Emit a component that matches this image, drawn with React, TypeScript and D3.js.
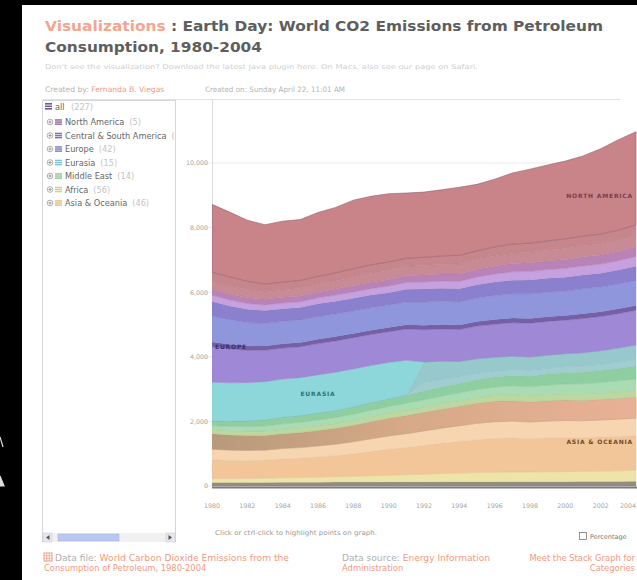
import React from 'react';
import * as d3 from 'd3';

const years = [1980,1981,1982,1983,1984,1985,1986,1987,1988,1989,1990,1991,1992,1993,1994,1995,1996,1997,1998,1999,2000,2001,2002,2003,2004];
const xTickYears = [1980,1982,1984,1986,1988,1990,1992,1994,1996,1998,2000,2002,2004];
const yTicks = [0,2000,4000,6000,8000,10000];

// Asia & Oceania (bottom of stack)
const aoBase = [110,110,110,110,115,115,115,120,120,120,125,125,125,130,130,130,130,135,135,135,135,140,140,140,145];
const aoYellow = [120,120,125,130,140,150,160,170,180,195,210,225,240,255,270,285,295,300,300,305,310,315,320,330,340];
const aoPeach = [580,560,550,555,580,595,625,650,695,750,800,840,890,935,975,1015,1045,1050,1030,1045,1050,1040,1055,1065,1070];
const aoLight = [330,320,315,315,325,330,340,355,375,395,415,430,450,470,490,510,520,525,515,525,530,525,530,535,545];
const aoTan = [480,470,460,450,460,470,480,495,510,530,550,560,575,590,605,620,630,630,620,630,635,630,635,640,650];
// Africa
const africa = [130,135,140,140,140,145,150,150,155,160,165,170,170,175,175,180,185,190,190,195,200,205,205,210,215];
// Middle East
const meLower = [120,130,140,155,165,170,175,180,190,195,200,210,220,230,240,250,260,270,280,290,300,310,320,335,350];
const meUpper = [150,160,180,195,205,210,215,220,230,235,240,250,270,280,290,300,310,320,330,340,350,360,370,385,400];
// Eurasia
const eurasiaOther = [0,0,0,0,0,0,0,0,0,0,0,0,280,240,210,200,190,190,190,185,185,190,195,200,210];
const russia = [0,0,0,0,0,0,0,0,0,0,0,0,620,560,470,450,420,410,400,400,400,410,420,430,440];
const ussr = [1190,1190,1180,1180,1180,1170,1180,1180,1170,1150,1120,1080,0,0,0,0,0,0,0,0,0,0,0,0,0];
// Europe
const euPurple = [1100,1050,1000,970,960,955,970,970,965,960,950,970,995,995,990,1010,1025,1035,1050,1045,1040,1060,1055,1065,1075];
const euDark = [150,145,140,135,135,135,135,135,135,135,135,135,140,140,140,140,145,145,145,145,145,150,150,150,150];
const euBlue = [800,760,720,700,695,690,700,700,695,690,685,700,720,720,715,730,745,750,765,760,755,770,765,770,775];
const euTop = [450,425,410,395,390,390,395,395,395,395,390,395,405,405,405,410,415,420,430,430,430,430,430,435,440];
// Central & South America
const csaLower = [200,190,180,175,175,180,185,190,195,200,205,210,215,220,230,240,250,260,265,270,275,280,280,285,300];
const csaUpper = [180,180,180,175,175,180,185,190,195,200,205,210,215,220,230,240,250,260,265,270,275,280,280,285,300];
// North America
const mexico = [240,250,250,230,230,240,240,250,260,270,280,290,295,300,310,300,305,315,325,330,340,340,345,350,360];
const canada = [290,280,260,240,240,240,240,250,260,265,260,250,255,260,265,270,280,285,285,290,295,300,305,310,320];
const unitedStates = [2100,2005,1890,1840,1890,1885,1980,2025,2125,2125,2115,2020,2020,2045,2110,2060,2100,2200,2290,2350,2410,2485,2640,2800,2885];

const layers = [
  { key: 'aoBase', values: aoBase, fill: '#918d80' },
  { key: 'aoYellow', values: aoYellow, fill: '#efe4a8' },
  { key: 'aoPeach', values: aoPeach, fill: '#f3c69a' },
  { key: 'aoLight', values: aoLight, fill: '#f6d5b0' },
  { key: 'aoTan', values: aoTan, fill: 'url(#aoTanGrad)', stroke: '#c29a7c' },
  { key: 'africa', values: africa, fill: '#bcd8a0' },
  { key: 'meLower', values: meLower, fill: '#a9dcb2' },
  { key: 'meUpper', values: meUpper, fill: '#8fcea0' },
  { key: 'eurasiaOther', values: eurasiaOther, fill: '#a0cdd0' },
  { key: 'russia', values: russia, fill: '#96c8cc' },
  { key: 'ussr', values: ussr, fill: '#8dd7da' },
  { key: 'euPurple', values: euPurple, fill: '#9f88d5' },
  { key: 'euDark', values: euDark, fill: '#7560a8' },
  { key: 'euBlue', values: euBlue, fill: '#8f96dc' },
  { key: 'euTop', values: euTop, fill: '#8a80cd' },
  { key: 'csaLower', values: csaLower, fill: '#c7a0e0' },
  { key: 'csaUpper', values: csaUpper, fill: '#b983b8' },
  { key: 'mexico', values: mexico, fill: '#c88a94' },
  { key: 'canada', values: canada, fill: '#c7858c' },
  { key: 'unitedStates', values: unitedStates, fill: '#c98489', stroke: '#86566a' },
];

const legendItems = [
  { name: 'North America', count: '(5)', color: '#9b6f9f' },
  { name: 'Central & South America', count: '(47)', color: '#8c6db3' },
  { name: 'Europe', count: '(42)', color: '#7f80cf' },
  { name: 'Eurasia', count: '(15)', color: '#7ec7d6' },
  { name: 'Middle East', count: '(14)', color: '#93c98c' },
  { name: 'Africa', count: '(56)', color: '#d3d47f' },
  { name: 'Asia & Oceania', count: '(46)', color: '#e8c27f' },
];

const tableRows = years.map((yr, i) => {
  const row: any = { year: yr };
  layers.forEach(l => { row[l.key] = l.values[i]; });
  return row;
});

export default function App() {
  const x = d3.scaleLinear().domain([1980, 2004]).range([212, 636]);
  const y = d3.scaleLinear().domain([0, 10000]).range([486, 163]);
  const stack = d3.stack<any>().keys(layers.map(l => l.key));
  const series = stack(tableRows);
  const area = d3.area<any>()
    .x(d => x(d.data.year))
    .y0(d => y(d[0]))
    .y1(d => y(d[1]));
  const idx = (k: string) => layers.findIndex(l => l.key === k);
  const yr = (year: number) => years.indexOf(year);

  const naMid = (series[idx('mexico')][yr(2003)][0] + series[idx('unitedStates')][yr(2003)][1]) / 2;
  const euLine = series[idx('euDark')][yr(1980)][0];
  const eaMid = (series[idx('ussr')][yr(1986)][0] + series[idx('ussr')][yr(1986)][1]) / 2;
  const aoMid = (series[idx('aoBase')][yr(2003)][0] + series[idx('aoTan')][yr(2003)][1]) / 2;

  const fmt = d3.format(',');
  const small = 'DejaVu Sans, Verdana, sans-serif';
  const salmon = '#f19a82';
  const lastTick = xTickYears[xTickYears.length - 1];

  return (
    <svg width={637} height={580} style={{ position: 'absolute', left: 0, top: 0, display: 'block' }}>
      <defs>
        <linearGradient id="aoTanGrad" gradientUnits="userSpaceOnUse" x1={212} x2={636} y1={0} y2={0}>
          <stop offset="0" stopColor="#b79a7b" />
          <stop offset="0.45" stopColor="#d6a988" />
          <stop offset="1" stopColor="#e9b197" />
        </linearGradient>
        <clipPath id="panelClip"><rect x={43} y={101} width={132} height={430} /></clipPath>
        <clipPath id="plotClip"><rect x={212} y={100} width={425} height={390} /></clipPath>
      </defs>
      <rect x={0} y={0} width={637} height={580} fill="#000" />
      <rect x={22} y={5} width={615} height={575} fill="#fff" />
      <path d="M0,437 L3,447 M0,476 L4,486 L0,486 Z" stroke="#ddd" strokeWidth={1.2} fill="#ddd" />

      {/* Title */}
      <text x={45} y={31} fontFamily={small} fontWeight="bold" fontSize={14.5} textLength={558} lengthAdjust="spacingAndGlyphs">
        <tspan fill="#f4a58f">Visualizations</tspan>
        <tspan fill="#5e5e5e"> : Earth Day: World CO2 Emissions from Petroleum</tspan>
      </text>
      <text x={45} y={52} fontFamily={small} fontWeight="bold" fontSize={14.5} fill="#5e5e5e" textLength={217} lengthAdjust="spacingAndGlyphs">
        Consumption, 1980-2004
      </text>
      <text x={45} y={69} fontFamily={small} fontSize={6.5} fill="#cfcfcf" textLength={433} lengthAdjust="spacingAndGlyphs">
        Don't see the visualization? Download the latest Java plugin here. On Macs, also see our page on Safari.
      </text>
      <text x={45} y={92} fontFamily={small} fontSize={7.6} fill="#b5b5b5">
        <tspan>Created by: </tspan><tspan fill={salmon}>Fernanda B. Viegas</tspan>
      </text>
      <text x={205} y={92} fontFamily={small} fontSize={7.4} fill="#b5b5b5" textLength={140} lengthAdjust="spacingAndGlyphs">
        Created on: Sunday April 22, 11:01 AM
      </text>
      <line x1={43} x2={620} y1={99.5} y2={99.5} stroke="#e2e2e2" />

      {/* Legend panel */}
      <rect x={42.5} y={100.5} width={133} height={441} fill="#fff" stroke="#d6d6d6" />
      <g clipPath="url(#panelClip)" fontFamily={small} fontSize={8.2}>
        <g>
          <rect x={45} y={103} width={7} height={1.6} fill="#6c5b97" />
          <rect x={45} y={105.5} width={7} height={1.6} fill="#6c5b97" />
          <rect x={45} y={108} width={7} height={1.6} fill="#6c5b97" />
          <text x={55} y={110} fill="#666">all</text>
          <text x={71} y={110} fill="#c4c4c4">(227)</text>
        </g>
        {legendItems.map((it, i) => {
          const cy = 122 + i * 13.5;
          return (
            <g key={it.name}>
              <circle cx={50} cy={cy} r={2.8} fill="#fff" stroke="#9a9a9a" strokeWidth={0.8} />
              <path d={`M48.5,${cy} H51.5 M50,${cy - 1.5} V${cy + 1.5}`} stroke="#777" strokeWidth={0.7} />
              <rect x={55} y={cy - 2.8} width={7} height={1.5} fill={it.color} />
              <rect x={55} y={cy - 0.7} width={7} height={1.5} fill={it.color} />
              <rect x={55} y={cy + 1.4} width={7} height={1.5} fill={it.color} />
              <text x={65} y={cy + 3} fill="#666">{it.name}
                <tspan fill="#c4c4c4" dx={5}>{it.count}</tspan>
              </text>
            </g>
          );
        })}
      </g>
      {/* scrollbar */}
      <rect x={43} y={533} width={132} height={9} fill="#f1f1f1" />
      <rect x={43} y={533} width={9} height={9} fill="#e6e6ee" stroke="#c8c8d0" strokeWidth={0.5} />
      <path d="M49.5,535 L46,537.5 L49.5,540 Z" fill="#555" />
      <rect x={58} y={534} width={61} height={7} fill="#b9c8f1" stroke="#9fb1e0" strokeWidth={0.5} />
      <rect x={166} y={533} width={9} height={9} fill="#e6e6ee" stroke="#c8c8d0" strokeWidth={0.5} />
      <path d="M168.5,535 L172,537.5 L168.5,540 Z" fill="#555" />

      {/* Plot */}
      {yTicks.map(t => (
        <g key={t}>
          <line x1={205} x2={636} y1={y(t)} y2={y(t)} stroke="#e6e6e6" strokeWidth={0.8} />
          <text x={208} y={y(t) + 2.3} textAnchor="end" fontFamily={small} fontSize={6.3} fill="#a3a3a3">{fmt(t)}</text>
        </g>
      ))}
      <line x1={212.5} x2={212.5} y1={100} y2={488} stroke="#dcdcdc" />
      <g clipPath="url(#plotClip)">
        {series.map((s, i) => {
          const l = layers[i];
          const base = l.fill.startsWith('url') ? '#c9a07e' : l.fill;
          return (
            <path key={l.key} d={area(s) || ''} fill={l.fill}
              stroke={l.stroke || (d3.color(base) as any).darker(0.3).formatHex()}
              strokeWidth={l.stroke ? 0.9 : 0.5} strokeOpacity={0.6} />
          );
        })}
      </g>
      <line x1={212} x2={637} y1={y(0) + 1.5} y2={y(0) + 1.5} stroke="#7b7b7b" strokeWidth={2} />

      {/* Region labels */}
      <g fontFamily={small} fontWeight="bold" fontSize={6} letterSpacing={0.8}>
        <text x={x(2004) - 3} y={y(naMid) + 2} textAnchor="end" fill="#7a3c4f">NORTH AMERICA</text>
        <text x={x(1980) + 3} y={y(euLine) + 2} fill="#3c2f6f">EUROPE</text>
        <text x={x(1986)} y={y(eaMid) + 2} textAnchor="middle" fill="#2f6f75">EURASIA</text>
        <text x={x(2004) - 3} y={y(aoMid) + 2} textAnchor="end" fill="#6d4a2e">ASIA &amp; OCEANIA</text>
      </g>

      {/* X axis labels */}
      {xTickYears.map(t => (
        <text key={t} x={t === lastTick ? 636 : x(t)} y={508} textAnchor={t === lastTick ? 'end' : 'middle'}
          fontFamily={small} fontSize={6.3} fill="#a3a3a3">{t}</text>
      ))}

      <text x={215} y={535} fontFamily={small} fontSize={6.5} fill="#9a9a9a" textLength={162} lengthAdjust="spacingAndGlyphs">
        Click or ctrl-click to highlight points on graph.
      </text>
      <rect x={579.5} y={532.5} width={7} height={7} fill="#fff" stroke="#777" strokeWidth={0.8} />
      <text x={590} y={539} fontFamily={small} fontSize={6.5} fill="#777">Percentage</text>

      {/* Footer */}
      <g fontFamily={small} fontSize={8.4}>
        <rect x={44} y={553} width={8} height={8} fill="none" stroke={salmon} strokeWidth={1} />
        <path d="M44,555.7 H52 M44,558.3 H52 M46.7,553 V561 M49.3,553 V561" stroke={salmon} strokeWidth={0.7} />
        <text x={55} y={561} fill="#b0b0b0" textLength={234} lengthAdjust="spacingAndGlyphs">Data file: <tspan fill={salmon}>World Carbon Dioxide Emissions from the</tspan></text>
        <text x={44} y={571} fill={salmon}>Consumption of Petroleum, 1980-2004</text>
        <text x={342} y={561} fill="#b0b0b0" textLength={148} lengthAdjust="spacingAndGlyphs">Data source: <tspan fill={salmon}>Energy Information</tspan></text>
        <text x={342} y={571} fill={salmon}>Administration</text>
        <text x={635} y={561} textAnchor="end" fill={salmon}>Meet the Stack Graph for</text>
        <text x={635} y={571} textAnchor="end" fill={salmon}>Categories</text>
      </g>
    </svg>
  );
}
